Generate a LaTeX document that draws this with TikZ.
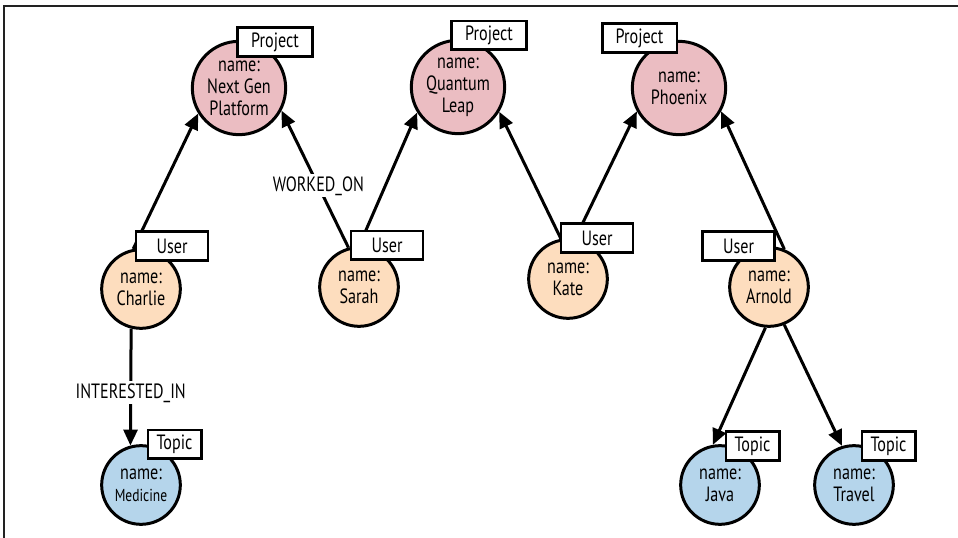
\documentclass[tikz,border=0pt]{standalone}
\usepackage{fontspec}
\setmainfont{PT Sans}[FakeStretch=0.78]
\usetikzlibrary{arrows.meta}
\definecolor{projfill}{HTML}{EBBDC2}
\definecolor{userfill}{HTML}{FDDDBE}
\definecolor{topicfill}{HTML}{B5D5EB}
\definecolor{framecol}{HTML}{222222}
\begin{document}
\begin{tikzpicture}[x=0.75pt,y=-0.75pt,
  every node/.style={font=\fontsize{15.5}{16.5}\selectfont},
  ent/.style={circle, draw=black, line width=2.25pt, align=center, inner sep=0pt},
  proj/.style={ent, fill=projfill, minimum size=70pt},
  usr/.style={ent, fill=userfill, minimum size=59pt},
  tpc/.style={ent, fill=topicfill, minimum size=59pt},
  lbl/.style={draw=black, fill=white, line width=2pt, inner sep=0pt, minimum height=21.5pt},
  projlbl/.style={lbl, minimum width=56pt},
  usrlbl/.style={lbl, minimum width=54pt},
  tpclbl/.style={lbl, minimum width=40pt},
  rel/.style={line width=2.25pt, -{Triangle[length=12pt,width=10.5pt]}},
  rellbl/.style={fill=white, inner sep=1.5pt}
]
\useasboundingbox (0,0) rectangle (958,538);
\draw[line width=1.5pt, framecol] (4,538) -- (4,6) -- (958,6);

% entity circles
\node[proj] (nextgen) at (239,88) {name:\\Next Gen\\Platform};
\node[proj] (quantum) at (458,87) {name:\\Quantum\\Leap};
\node[proj] (phoenix) at (679,88) {name:\\Phoenix};
\node[usr] (charlie) at (141,289) {name:\\Charlie};
\node[usr] (sarah) at (359,287) {name:\\Sarah};
\node[usr] (kate) at (568,279) {name:\\Kate};
\node[usr] (arnold) at (769,287) {name:\\Arnold};
\node[tpc] (medicine) at (141,485) {name:\\{\fontsize{13}{16.5}\selectfont Medicine}};
\node[tpc] (java) at (720,485) {name:\\Java};
\node[tpc] (travel) at (854,485) {name:\\Travel};

% relationships
\draw[rel] (charlie.101) -- (nextgen.212);
\draw[rel] (sarah.105) -- node[rellbl, pos=0.45] {WORKED\_ON} (nextgen.332);
\draw[rel] (sarah.90) -- (quantum.212);
\draw[rel] (kate.100) -- (quantum.329);
\draw[rel] (kate.80) -- (phoenix.209);
\draw[rel] (arnold.68) -- (phoenix.331);
\draw[rel] (charlie.256) -- node[rellbl, pos=0.55] {INTERESTED\_IN} (medicine.105);
\draw[rel] (arnold.265) -- (java.100);
\draw[rel] (arnold.292) -- (travel.107);

% type labels
\node[projlbl] (lp1) at (275,42) {Project};
\node[projlbl] (lp2) at (489,35.5) {Project};
\node[projlbl] (lp3) at (639.5,38) {Project};
\node[usrlbl] (lu1) at (172,246) {User};
\node[usrlbl] (lu2) at (387,245.5) {User};
\node[usrlbl] (lu3) at (597,238) {User};
\node[usrlbl] (lu4) at (738.5,246) {User};
\node[tpclbl] (lt1) at (174.5,444.5) {Topic};
\node[tpclbl] (lt2) at (752.5,446) {Topic};
\node[tpclbl] (lt3) at (888.5,446) {Topic};
\end{tikzpicture}
\end{document}
